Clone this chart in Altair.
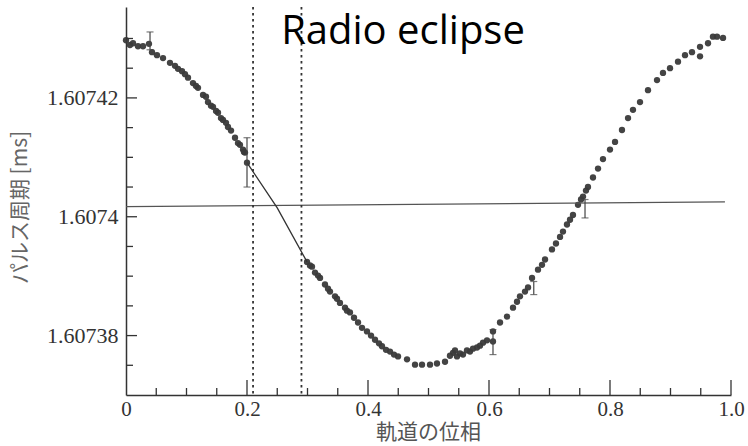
import altair as alt
import pandas as pd

# ---- data ----
phase = [0.0, 0.0066, 0.0116, 0.0198, 0.0281, 0.038, 0.043, 0.0512, 0.0612, 0.0727,
         0.086, 0.0926, 0.1025, 0.1107, 0.119, 0.1273, 0.1355, 0.1438, 0.1521, 0.1603,
         0.1686, 0.1802, 0.1884, 0.1934, 0.1967, 0.2, 0.2992, 0.3074, 0.3124, 0.3207,
         0.3289, 0.3372, 0.3455, 0.3537, 0.362, 0.3702, 0.3835, 0.3983, 0.4116, 0.4231,
         0.4364, 0.4496, 0.4645, 0.4777, 0.4893, 0.5025, 0.514, 0.5273, 0.5405, 0.5471,
         0.557, 0.5686, 0.5802, 0.5901, 0.6066, 0.6066, 0.6182, 0.6298, 0.6397, 0.6512,
         0.6645, 0.6711, 0.681, 0.6926, 0.7041, 0.7174, 0.7289, 0.7388, 0.7471, 0.7554,
         0.7636, 0.7719, 0.7802, 0.7884, 0.8, 0.8083, 0.8198, 0.8298, 0.838, 0.8496,
         0.8628, 0.8777, 0.8876, 0.8992, 0.9124, 0.924, 0.9355, 0.9488, 0.9488, 0.962,
         0.9702, 0.9769, 0.9868]
period = [1.6074297, 1.6074289, 1.6074292, 1.6074287, 1.6074287, 1.6074291, 1.6074277, 1.6074272, 1.6074267, 1.6074259,
          1.6074249, 1.6074245, 1.6074234, 1.6074225, 1.6074217, 1.6074205, 1.6074193, 1.6074185, 1.6074175, 1.6074163,
          1.6074151, 1.6074133, 1.6074121, 1.6074113, 1.6074108, 1.6074091, 1.6073924, 1.6073916, 1.6073906, 1.6073897,
          1.6073886, 1.6073874, 1.6073866, 1.6073855, 1.6073847, 1.6073839, 1.6073822, 1.6073807, 1.6073793, 1.6073782,
          1.6073773, 1.6073765, 1.6073760, 1.6073751, 1.6073751, 1.6073751, 1.6073753, 1.6073756, 1.6073771, 1.6073765,
          1.6073768, 1.6073773, 1.6073780, 1.6073788, 1.6073790, 1.6073807, 1.6073822, 1.6073832, 1.6073847, 1.6073866,
          1.6073881, 1.6073897, 1.6073911, 1.6073928, 1.6073945, 1.6073966, 1.6073987, 1.6074003, 1.6074020, 1.6074034,
          1.6074050, 1.6074066, 1.6074081, 1.6074097, 1.6074113, 1.6074126, 1.6074146, 1.6074166, 1.6074180, 1.6074193,
          1.6074213, 1.6074230, 1.6074242, 1.6074250, 1.6074261, 1.6074272, 1.6074277, 1.6074270, 1.6074286, 1.6074292,
          1.6074303, 1.6074303, 1.6074301]

# further readings in the densely overlapping stretches
phase_more = [0.081, 0.0975, 0.1157, 0.1322, 0.1405, 0.1488, 0.157, 0.1653, 0.1736, 0.1851, 0.195,
              0.3041, 0.3174, 0.3339, 0.3488, 0.3653, 0.3769, 0.3901, 0.405, 0.4182, 0.4298, 0.443,
              0.5355, 0.5438, 0.5521, 0.5636, 0.5736, 0.5851, 0.5967,
              0.6463, 0.6595, 0.6876, 0.7107, 0.7223, 0.7339, 0.7521, 0.7603]
period_more = [1.6074254, 1.6074240, 1.6074220, 1.6074202, 1.6074187, 1.6074178, 1.6074166, 1.6074158, 1.6074145, 1.6074124, 1.6074109,
               1.6073918, 1.6073901, 1.6073879, 1.6073862, 1.6073842, 1.6073830, 1.6073813, 1.6073800, 1.6073787, 1.6073776, 1.6073768,
               1.6073766, 1.6073775, 1.6073770, 1.6073775, 1.6073778, 1.6073783, 1.6073792,
               1.6073857, 1.6073874, 1.6073919, 1.6073955, 1.6073975, 1.6073995, 1.6074029, 1.6074044]

err_phase = [0.0397, 0.2, 0.6066, 0.674, 0.7587]
err_low = [1.6074281, 1.6074050, 1.6073768, 1.6073869, 1.6073998]
err_high = [1.6074311, 1.6074133, 1.6073810, 1.6073891, 1.6074029]

fit_phase = [0.2, 0.25, 0.2992]
fit_period = [1.6074091, 1.6074015, 1.6073924]

mean_phase = [0.0, 0.99]
mean_period = [1.6074017, 1.6074025]

eclipse_edges = [0.21, 0.29]

x_labels = [0.0, 0.2, 0.4, 0.6, 0.8, 1.0]
x_major = [0.2, 0.4, 0.6, 0.8, 1.0]
x_minor = [0.05, 0.1, 0.15, 0.25, 0.3, 0.35, 0.45, 0.5, 0.55, 0.65, 0.7, 0.75, 0.85, 0.9, 0.95]
y_major = [1.60738, 1.6074, 1.60742]
y_minor = [1.607375, 1.607385, 1.60739, 1.607395, 1.607405, 1.60741, 1.607415, 1.607425, 1.60743]

# ---- chart ----
W, H = 605, 388
INK = "#333333"
xs = alt.Scale(domain=[0, 1], nice=False, zero=False)
ys = alt.Scale(domain=[1.60737, 1.6074353], nice=False, zero=False)

pts_df = pd.DataFrame({"phase": phase + phase_more, "period": period + period_more})
err_df = pd.DataFrame({"phase": err_phase, "low": err_low, "high": err_high})
caps_df = pd.DataFrame({"phase": err_phase + err_phase, "period": err_low + err_high})
fit_df = pd.DataFrame({"phase": fit_phase, "period": fit_period})
mean_df = pd.DataFrame({"phase": mean_phase, "period": mean_period})
edge_df = pd.DataFrame({"phase": eclipse_edges})
xmaj_df = pd.DataFrame({"phase": x_major})
xmin_df = pd.DataFrame({"phase": x_minor})
ymaj_df = pd.DataFrame({"period": y_major})
ymin_df = pd.DataFrame({"period": y_minor})

XT = "軌道の位相"
YT = "パルス周期 [ms]"

def xe(f="phase"):
    return alt.X(f"{f}:Q", scale=xs, title=XT)

def ye(f="period"):
    return alt.Y(f"{f}:Q", scale=ys, title=YT)

x_axis = alt.Axis(
    values=x_labels, labelExpr="datum.value == 0 ? '0' : format(datum.value, '.1f')",
    ticks=False, tickSize=0, grid=False, domainColor=INK, domainWidth=1.5,
    labelFont="Liberation Serif", labelFontSize=21, labelColor=INK, labelPadding=3,
    labelFlush=False, labelOverlap=False,
    titleFont="Noto Sans CJK JP", titleFontSize=21,
    titleFontWeight="normal", titleColor="#555555", titleX=302, titleY=37,
    titleAlign="center", titleBaseline="middle")
y_axis = alt.Axis(
    values=y_major, labelExpr="format(datum.value, '.5~f')",
    ticks=False, tickSize=0, grid=False, domainColor=INK, domainWidth=1.5,
    labelFont="Liberation Serif", labelFontSize=22, labelColor=INK, labelPadding=8,
    labelFlush=False, labelOverlap=False,
    titleFont="Noto Sans CJK JP", titleFontSize=21,
    titleFontWeight="normal", titleColor="#666666", titleX=-106, titleY=200,
    titleAngle=270, titleAlign="center", titleBaseline="middle")

points = alt.Chart(pts_df).mark_circle(size=40, color="#3a3a3a", opacity=0.95).encode(
    x=alt.X("phase:Q", scale=xs, title=XT, axis=x_axis),
    y=alt.Y("period:Q", scale=ys, title=YT, axis=y_axis))
mean_line = alt.Chart(mean_df).mark_line(color="#555555", strokeWidth=1.4).encode(
    x=xe(), y=ye())
edges = alt.Chart(edge_df).mark_rule(color=INK, strokeWidth=1.8, strokeDash=[2.5, 3.5]).encode(
    x=xe())
fit_line = alt.Chart(fit_df).mark_line(color=INK, strokeWidth=1.3).encode(
    x=xe(), y=ye())
err_rules = alt.Chart(err_df).mark_rule(color="#444444", strokeWidth=1.2).encode(
    x=xe(), y=ye("low"), y2="high:Q")
caps = alt.Chart(caps_df).mark_tick(orient="horizontal", size=7, thickness=1.2, color="#444444").encode(
    x=xe(), y=ye())

xmaj = alt.Chart(xmaj_df).mark_rule(color=INK, strokeWidth=1.3).encode(
    x=xe(), y=alt.value(H), y2=alt.value(H - 15))
xmin = alt.Chart(xmin_df).mark_rule(color=INK, strokeWidth=1.3).encode(
    x=xe(), y=alt.value(H), y2=alt.value(H - 7))
ymaj = alt.Chart(ymaj_df).mark_rule(color=INK, strokeWidth=1.3).encode(
    y=ye(), x=alt.value(0), x2=alt.value(11))
ymin = alt.Chart(ymin_df).mark_rule(color=INK, strokeWidth=1.3).encode(
    y=ye(), x=alt.value(0), x2=alt.value(7))

title = alt.Chart(pd.DataFrame({"label": ["Radio eclipse"]})).mark_text(
    font="Open Sans", fontSize=40, color="black", align="center", baseline="alphabetic"
).encode(text="label:N", x=alt.value(277), y=alt.value(37))

chart = alt.layer(
    points, mean_line, edges, fit_line, err_rules, caps, xmaj, xmin, ymaj, ymin, title
).properties(
    width=W, height=H,
    padding={"left": 126, "top": 7, "right": 17, "bottom": 51},
    autosize=alt.AutoSizeParams(type="none"),
    background="white",
).configure_view(strokeWidth=0)

chart.save("out.html", embed_options={"renderer": "svg", "actions": False})
